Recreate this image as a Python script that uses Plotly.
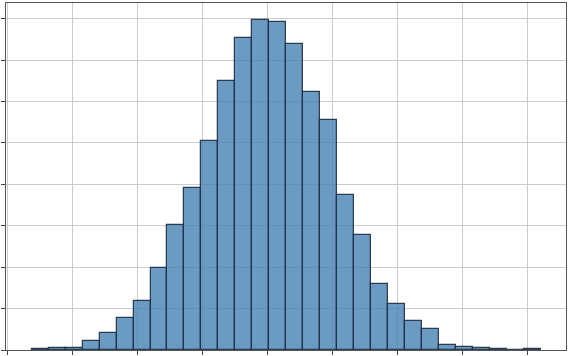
import plotly.graph_objects as go

# Histogram data (30 equal bins)
bin_start = -3.623
bin_width = 0.2611
counts = [2, 6, 5, 21, 42, 77, 118, 199, 303, 392,
          505, 649, 753, 798, 791, 740, 624, 556, 374, 278,
          160, 110, 70, 50, 13, 7, 5, 2, 0, 2]

centers = [bin_start + bin_width * (i + 0.5) for i in range(len(counts))]

fig = go.Figure(go.Bar(
    x=centers,
    y=counts,
    width=[bin_width] * len(counts),
    marker=dict(color="rgba(70,130,180,0.8)",
                line=dict(color="rgba(30,45,65,0.9)", width=1.25)),
))

axis_common = dict(
    showticklabels=False,
    ticks="outside",
    ticklen=3.5,
    tickwidth=1,
    tickcolor="#444",
    showgrid=True,
    gridcolor="#cccccc",
    gridwidth=1.3,
    zeroline=False,
    showline=True,
    linecolor="#555",
    linewidth=1.4,
    mirror=True,
)

fig.update_layout(
    width=569,
    height=356,
    margin=dict(l=5, r=2, t=2, b=5),
    paper_bgcolor="white",
    plot_bgcolor="white",
    showlegend=False,
    bargap=0,
    xaxis=dict(range=[-4.02, 4.60], tick0=0, dtick=1, **axis_common),
    yaxis=dict(range=[0, 838], tick0=0, dtick=100, **axis_common),
)

fig.write_html("out.html")
